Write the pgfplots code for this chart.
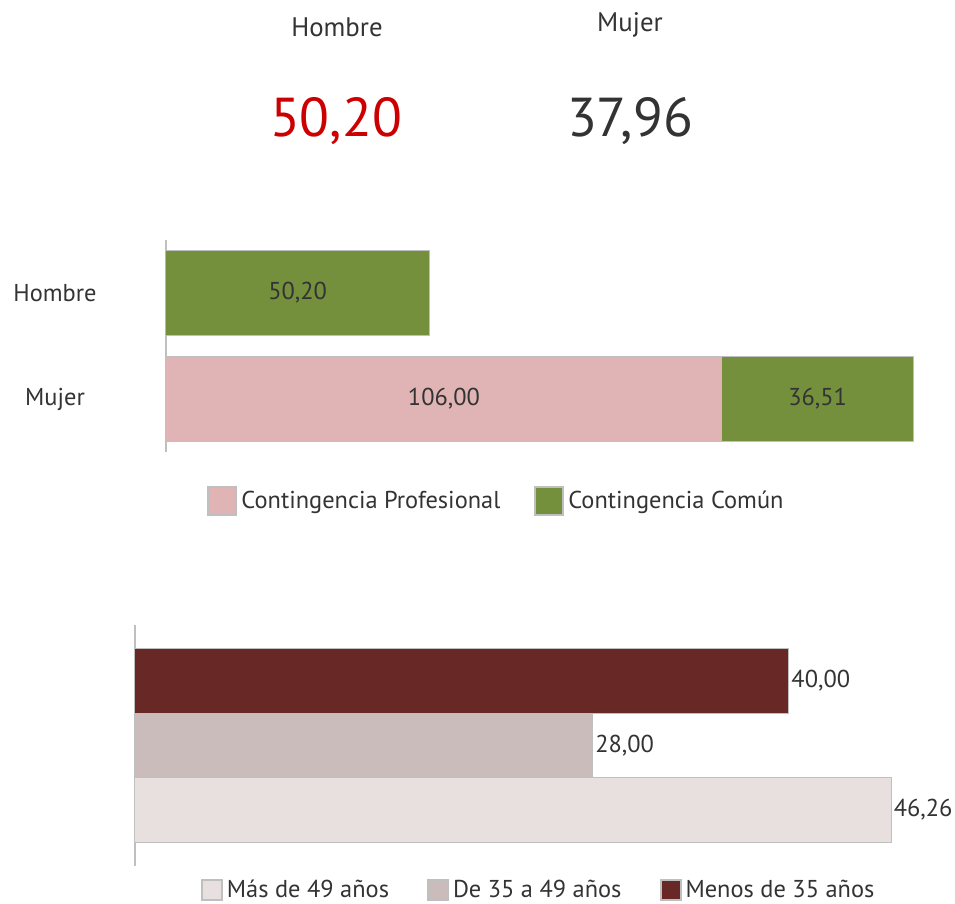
\documentclass[border=0pt]{standalone}
\usepackage{fontspec}
\setmainfont{PT Sans}
\usepackage{pgfplots}
\pgfplotsset{compat=1.18}
\definecolor{profpink}{RGB}{224,180,180}
\definecolor{comungreen}{RGB}{117,144,61}
\definecolor{darkmaroon}{RGB}{104,40,38}
\definecolor{midbeige}{RGB}{202,188,186}
\definecolor{lightbeige}{RGB}{232,224,223}
\definecolor{edgegray}{RGB}{191,191,191}
\definecolor{txt}{RGB}{51,51,51}
\definecolor{bigred}{RGB}{204,0,0}
\newcommand{\lblfont}{\fontsize{12.2}{14}\selectfont}

\begin{document}
\begin{tikzpicture}
\useasboundingbox (0pt,0pt) rectangle (477.5pt,-452pt);

% headline figures
\node[font=\fontsize{13.4}{15}\selectfont, text=txt] at (168.5pt,-13.5pt) {Hombre};
\node[font=\fontsize{13.4}{15}\selectfont, text=txt] at (315pt,-12.5pt) {Mujer};
\node[font=\fontsize{27.4}{31}\selectfont, text=bigred] at (168pt,-60.5pt) {50,20};
\node[font=\fontsize{27.4}{31}\selectfont, text=txt] at (315pt,-60.5pt) {37,96};

% stacked bars by contingency
\begin{axis}[
  at={(83pt,-226pt)}, anchor=south west,
  scale only axis, width=375pt, height=106pt,
  xbar stacked, bar width=0.8,
  xmin=0, xmax=143, ymin=-0.5, ymax=1.5,
  axis x line=none, axis y line*=left,
  y axis line style={edgegray, line width=0.8pt, -},
  ytick={0,1}, yticklabels={Mujer,Hombre},
  ytick style={draw=none},
  yticklabel style={anchor=center, xshift=-55.5pt, font=\lblfont, text=txt},
  legend style={at={(0.442,-0.231)}, anchor=center, draw=none, fill=none,
    font=\lblfont, text=txt, legend columns=2,
    /tikz/every even column/.append style={column sep=15pt}},
  legend image code/.code={\draw[#1, draw=edgegray, line width=1pt] (0pt,-7pt) rectangle (14pt,7pt);},
  after end axis/.code={
    \node[font=\lblfont, text=txt] at (axis cs:25.1,1) {50,20};
    \node[font=\lblfont, text=txt] at (axis cs:53,0) {106,00};
    \node[font=\lblfont, text=txt] at (axis cs:124.255,0) {36,51};
  },
]
\addplot[fill=profpink, draw=edgegray, line width=0.5pt] coordinates {(0,1) (106,0)};
\addlegendentry{Contingencia Profesional}
\addplot[fill=comungreen, draw=edgegray, line width=0.5pt] coordinates {(50.20,1) (36.51,0)};
\addlegendentry{Contingencia Común}
\end{axis}

% bars by age group
\begin{axis}[
  at={(67.5pt,-433pt)}, anchor=south west,
  scale only axis, width=408.75pt, height=120.5pt,
  xbar, bar width=1, bar shift=0pt,
  xmin=0, xmax=50, ymin=-0.87, ymax=2.87,
  axis x line=none, axis y line*=left,
  y axis line style={edgegray, line width=0.8pt, -},
  ytick=\empty,
  nodes near coords, point meta=explicit symbolic,
  every node near coord/.append style={anchor=west, inner sep=1pt, font=\lblfont, text=txt},
  legend style={at={(0.495,-0.0996)}, anchor=center, draw=none, fill=none,
    font=\lblfont, text=txt, legend columns=3,
    /tikz/every even column/.append style={column sep=17pt}},
  legend image code/.code={\draw[#1, draw=edgegray, line width=1pt] (0pt,-5pt) rectangle (10pt,5pt);},
]
\addplot[fill=lightbeige, draw=edgegray, line width=0.5pt] coordinates {(46.26,0) [46,26]};
\addlegendentry{Más de 49 años}
\addplot[fill=midbeige, draw=edgegray, line width=0.5pt] coordinates {(28.00,1) [28,00]};
\addlegendentry{De 35 a 49 años}
\addplot[fill=darkmaroon, draw=edgegray, line width=0.5pt] coordinates {(40.00,2) [40,00]};
\addlegendentry{Menos de 35 años}
\end{axis}
\end{tikzpicture}
\end{document}
